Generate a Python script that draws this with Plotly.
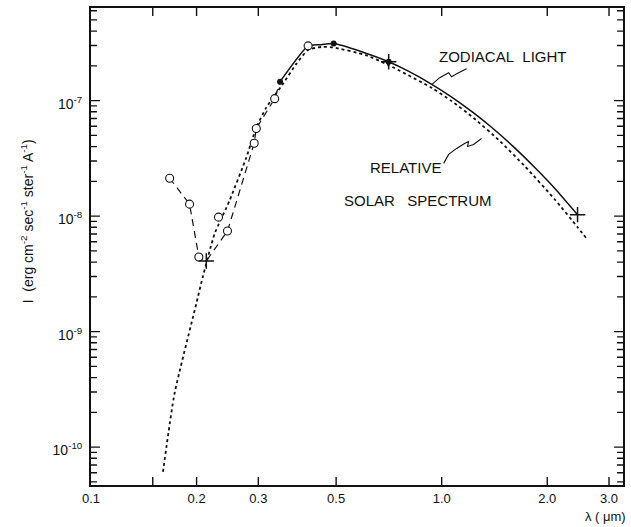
import math
import plotly.graph_objects as go

# ---------------- data ----------------
# Relative solar spectrum (dotted curve)
solar_lam = [0.1604, 0.173, 0.1995, 0.208, 0.225, 0.248, 0.277, 0.296, 0.316,
             0.351, 0.385, 0.416, 0.456, 0.49, 0.607, 0.706, 0.937, 1.068,
             1.233, 1.452, 1.729, 2.108, 2.44, 2.60]
solar_I = [6.1e-11, 2.9e-10, 1.73e-9, 2.92e-9, 7.0e-9, 1.35e-8, 3.19e-8, 5.85e-8, 8.7e-8,
           1.37e-7, 2.08e-7, 2.75e-7, 2.92e-7, 2.89e-7, 2.48e-7, 2.03e-7, 1.29e-7, 9.9e-8,
           7.08e-8, 4.58e-8, 2.69e-8, 1.38e-8, 8.02e-9, 6.3e-9]

# Zodiacal light (solid curve)
zodi_lam = [0.346, 0.416, 0.45, 0.492, 0.594, 0.706, 0.806, 0.937, 1.068, 1.233,
            1.387, 1.601, 1.849, 2.108, 2.44]
zodi_I = [1.46e-7, 2.98e-7, 3.05e-7, 3.12e-7, 2.64e-7, 2.17e-7, 1.79e-7, 1.385e-7,
          1.074e-7, 7.83e-8, 5.88e-8, 4.0e-8, 2.61e-8, 1.72e-8, 1.03e-8]

# UV measurements (open circles)
uv_lam = [0.1676, 0.191, 0.203, 0.231, 0.245, 0.292, 0.296, 0.334, 0.416]
uv_I = [2.13e-8, 1.27e-8, 4.43e-9, 9.8e-9, 7.43e-9, 4.28e-8, 5.74e-8, 1.04e-7, 2.98e-7]

# Dashed connecting line through the UV data
dash_lam = [0.1676, 0.191, 0.203, 0.2132, 0.245, 0.292, 0.296, 0.334, 0.346]
dash_I = [2.13e-8, 1.27e-8, 4.43e-9, 4.09e-9, 7.43e-9, 4.28e-8, 5.74e-8, 1.04e-7, 1.46e-7]

# Filled points
filled_lam = [0.346, 0.492, 0.706]
filled_I = [1.46e-7, 3.12e-7, 2.17e-7]

# Cross marks
cross_lam = [0.2132, 0.706, 2.44]
cross_I = [4.09e-9, 2.17e-7, 1.03e-8]

x_tickvals = [0.1, 0.15, 0.2, 0.3, 0.5, 1.0, 2.0, 3.0]
x_ticktext = ["0.1", "", "0.2", "0.3", "0.5", "1.0", "2.0", "3.0"]
y_tickvals = [1e-10, 1e-9, 1e-8, 1e-7]
y_ticktext = ["10<sup>-10</sup>", "10<sup>-9</sup>", "10<sup>-8</sup>", "10<sup>-7</sup>"]
y_minor_digits = [2, 3, 4, 5, 6, 7, 8, 9]
y_minor_exps = [-11, -10, -9, -8, -7]

INK = "#111111"
FONT = "Liberation Sans"
X_RANGE = [-1, 0.517]
Y_RANGE = [-10.328, -6.198]

# ---------------- figure ----------------
fig = go.Figure()

fig.add_trace(go.Scatter(x=solar_lam, y=solar_I, mode="lines",
                         line=dict(color=INK, width=1.8, dash="dot", shape="spline", smoothing=0.5),
                         hoverinfo="skip"))
fig.add_trace(go.Scatter(x=zodi_lam, y=zodi_I, mode="lines",
                         line=dict(color=INK, width=1.5, shape="spline", smoothing=0.5),
                         hoverinfo="skip"))
fig.add_trace(go.Scatter(x=dash_lam, y=dash_I, mode="lines",
                         line=dict(color=INK, width=1.2, dash="7px,5px"),
                         hoverinfo="skip"))
fig.add_trace(go.Scatter(x=uv_lam, y=uv_I, mode="markers",
                         marker=dict(symbol="circle", size=8, color="white",
                                     line=dict(color=INK, width=1.1)),
                         hoverinfo="skip"))
fig.add_trace(go.Scatter(x=filled_lam, y=filled_I, mode="markers",
                         marker=dict(symbol="circle", size=6, color=INK),
                         hoverinfo="skip"))
fig.add_trace(go.Scatter(x=cross_lam, y=cross_I, mode="markers",
                         marker=dict(symbol="cross-thin-open", size=11, color=INK,
                                     line=dict(color=INK, width=1.5)),
                         hoverinfo="skip"))

# plot-area geometry in pixels (for placing decorative text / leaders)
W, H = 631, 527
L, R, T, B = 91, 6, 6, 42
PW, PH = W - L - R, H - T - B


def px(x):
    return (x - L) / PW


def py(y):
    return (H - B - y) / PH


def path(points):
    return "M " + " L ".join(f"{px(a):.4f},{py(b):.4f}" for a, b in points)


def x_paper(v):
    return (math.log10(v) - X_RANGE[0]) / (X_RANGE[1] - X_RANGE[0])


def y_paper(v):
    return (math.log10(v) - Y_RANGE[0]) / (Y_RANGE[1] - Y_RANGE[0])


tfont = dict(family=FONT, size=15, color=INK)
annotations = [
    dict(text="ZODIACAL\u00a0\u00a0LIGHT", x=px(505), y=py(55), xref="paper", yref="paper",
         showarrow=False, font=tfont, xanchor="center", yanchor="middle"),
    dict(text="RELATIVE", x=px(407), y=py(166), xref="paper", yref="paper",
         showarrow=False, font=tfont, xanchor="center", yanchor="middle"),
    dict(text="SOLAR\u00a0\u00a0\u00a0SPECTRUM", x=px(419), y=py(199), xref="paper", yref="paper",
         showarrow=False, font=tfont, xanchor="center", yanchor="middle"),
    dict(text="\u03bb (\u00a0\u03bcm)", x=px(630), y=py(517), xref="paper", yref="paper",
         showarrow=False, font=dict(family=FONT, size=13, color=INK),
         xanchor="right", yanchor="middle"),
    dict(text="I  (erg cm<sup>-2</sup> sec<sup>-1</sup> ster<sup>-1</sup> A<sup>-1</sup>)",
         x=px(27), y=py(220), xref="paper", yref="paper", textangle=-90,
         showarrow=False, font=dict(family=FONT, size=14, color=INK),
         xanchor="center", yanchor="middle"),
]

shapes = [
    dict(type="path", xref="paper", yref="paper",
         path=path([(433, 83), (441, 76), (450, 71), (453, 75), (458, 72), (468, 67)]),
         line=dict(color=INK, width=1.1)),
    dict(type="path", xref="paper", yref="paper",
         path=path([(445, 162), (450, 153), (458, 147), (466, 142), (470, 140),
                    (469, 145), (475, 143), (483, 137)]),
         line=dict(color=INK, width=1.1)),
]

# tick marks drawn as frame decorations (inside, on all four sides)
segs = []
YL_MAJ, YL_MIN = 9 / PW, 6 / PW
XL = 8 / PH
for v in y_tickvals:
    yp = y_paper(v)
    segs.append(f"M 0,{yp:.5f} L {YL_MAJ:.5f},{yp:.5f}")
    segs.append(f"M 1,{yp:.5f} L {1 - YL_MAJ:.5f},{yp:.5f}")
for e in y_minor_exps:
    for k in y_minor_digits:
        yp = y_paper(k * 10.0 ** e)
        if 0 < yp < 1:
            segs.append(f"M 0,{yp:.5f} L {YL_MIN:.5f},{yp:.5f}")
            segs.append(f"M 1,{yp:.5f} L {1 - YL_MIN:.5f},{yp:.5f}")
for v in x_tickvals:
    xp = x_paper(v)
    if 0 < xp < 1:
        segs.append(f"M {xp:.5f},0 L {xp:.5f},{XL:.5f}")
        segs.append(f"M {xp:.5f},1 L {xp:.5f},{1 - XL:.5f}")
shapes.append(dict(type="path", xref="paper", yref="paper", path=" ".join(segs),
                   line=dict(color=INK, width=1.4), layer="above"))

axis_common = dict(showgrid=False, zeroline=False, showline=True, linecolor=INK,
                   linewidth=1.8, ticks="", mirror=True)

fig.update_layout(
    width=W, height=H,
    margin=dict(l=L, r=R, t=T, b=B, pad=0),
    paper_bgcolor="white", plot_bgcolor="white",
    showlegend=False,
    font=dict(family=FONT, color=INK),
    xaxis=dict(type="log", range=X_RANGE, tickmode="array",
               tickvals=x_tickvals, ticktext=x_ticktext,
               tickfont=dict(family=FONT, size=13, color=INK),
               **axis_common),
    yaxis=dict(type="log", range=Y_RANGE, tickmode="array",
               tickvals=y_tickvals, ticktext=y_ticktext,
               ticklabelshift=3, ticklabelstandoff=4,
               tickfont=dict(family=FONT, size=14, color=INK),
               **axis_common),
    annotations=annotations,
    shapes=shapes,
)

fig.write_html("out.html", config={"displayModeBar": False},
               post_script="document.body.style.margin='0';")
